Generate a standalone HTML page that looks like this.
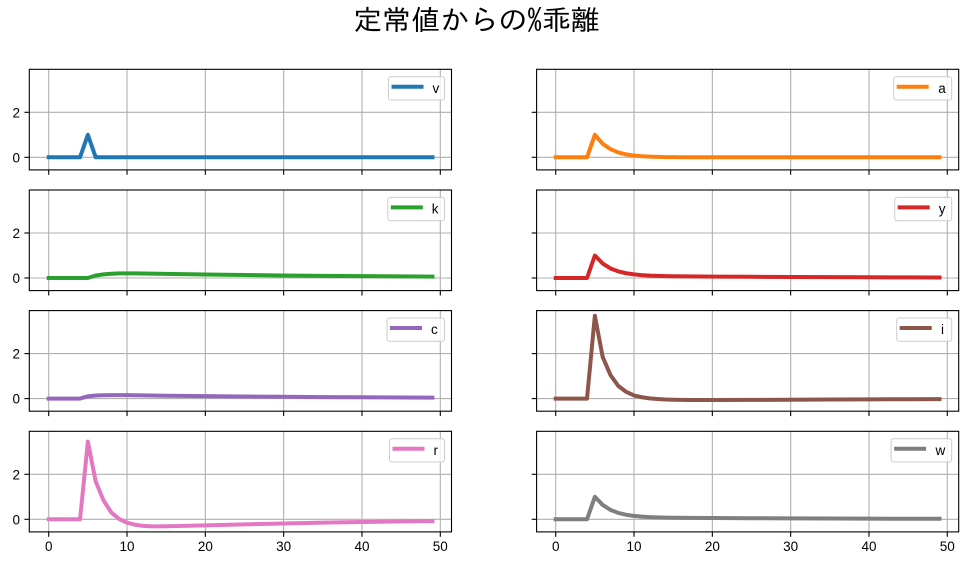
<!DOCTYPE html>
<html><head><meta charset="utf-8"><style>
html,body{margin:0;padding:0;background:#fff;}
svg{display:block;}
text{font-family:"Liberation Sans","IPAGothic","Noto Sans CJK JP",sans-serif;fill:#000;}
text.t{font-family:"IPAGothic","Noto Sans CJK JP",sans-serif;}
</style></head><body>
<svg width="968" height="564" viewBox="0 0 968 564" xmlns="http://www.w3.org/2000/svg">
<defs>
<g id="fl">
  <g stroke="#b0b0b0" stroke-width="1.1" fill="none">
    <line x1="48.7" y1="0" x2="48.7" y2="100.6"/><line x1="127.02" y1="0" x2="127.02" y2="100.6"/>
    <line x1="205.34" y1="0" x2="205.34" y2="100.6"/><line x1="283.66" y1="0" x2="283.66" y2="100.6"/>
    <line x1="361.98" y1="0" x2="361.98" y2="100.6"/><line x1="440.3" y1="0" x2="440.3" y2="100.6"/>
    <line x1="29.3" y1="88" x2="451.5" y2="88"/><line x1="29.3" y1="43" x2="451.5" y2="43"/>
  </g>
  <g stroke="#000" stroke-width="1.1">
    <line x1="48.7" y1="100.6" x2="48.7" y2="105.5"/><line x1="127.02" y1="100.6" x2="127.02" y2="105.5"/>
    <line x1="205.34" y1="100.6" x2="205.34" y2="105.5"/><line x1="283.66" y1="100.6" x2="283.66" y2="105.5"/>
    <line x1="361.98" y1="100.6" x2="361.98" y2="105.5"/><line x1="440.3" y1="100.6" x2="440.3" y2="105.5"/>
    <line x1="24.4" y1="88" x2="29.3" y2="88"/><line x1="24.4" y1="43" x2="29.3" y2="43"/>
  </g>
  <text x="20" y="93" font-size="13.5" text-anchor="end">0</text>
  <text x="20" y="48" font-size="13.5" text-anchor="end">2</text>
</g>
<g id="fr">
  <g stroke="#b0b0b0" stroke-width="1.1" fill="none">
    <line x1="555.7" y1="0" x2="555.7" y2="100.6"/><line x1="634.02" y1="0" x2="634.02" y2="100.6"/>
    <line x1="712.34" y1="0" x2="712.34" y2="100.6"/><line x1="790.66" y1="0" x2="790.66" y2="100.6"/>
    <line x1="868.98" y1="0" x2="868.98" y2="100.6"/><line x1="947.3" y1="0" x2="947.3" y2="100.6"/>
    <line x1="536.6" y1="88" x2="958.7" y2="88"/><line x1="536.6" y1="43" x2="958.7" y2="43"/>
  </g>
  <g stroke="#000" stroke-width="1.1">
    <line x1="555.7" y1="100.6" x2="555.7" y2="105.5"/><line x1="634.02" y1="100.6" x2="634.02" y2="105.5"/>
    <line x1="712.34" y1="100.6" x2="712.34" y2="105.5"/><line x1="790.66" y1="100.6" x2="790.66" y2="105.5"/>
    <line x1="868.98" y1="100.6" x2="868.98" y2="105.5"/><line x1="947.3" y1="100.6" x2="947.3" y2="105.5"/>
    <line x1="531.7" y1="88" x2="536.6" y2="88"/><line x1="531.7" y1="43" x2="536.6" y2="43"/>
  </g>
</g>
</defs>

<text class="t" x="353" y="30" font-size="27.8" textLength="247" lengthAdjust="spacingAndGlyphs">定常値からの%乖離</text>

<!-- frames -->
<use href="#fl" transform="translate(0,69.3)"/>
<use href="#fl" transform="translate(0,190)"/>
<use href="#fl" transform="translate(0,310.6)"/>
<use href="#fl" transform="translate(0,431.3)"/>
<use href="#fr" transform="translate(0,69.3)"/>
<use href="#fr" transform="translate(0,190)"/>
<use href="#fr" transform="translate(0,310.6)"/>
<use href="#fr" transform="translate(0,431.3)"/>

<!-- series -->
<g fill="none" stroke-width="4" stroke-linejoin="round" stroke-linecap="square">
<g transform="translate(48.7,157.3) scale(7.832,-22.5)"><path stroke="#1f77b4" vector-effect="non-scaling-stroke" d="M0,0 L4,0 L5,1 L6,0 L49,0"/></g>
<g transform="translate(555.7,157.3) scale(7.832,-22.5)"><path stroke="#ff7f0e" vector-effect="non-scaling-stroke" d="M0,0 L4,0 L5,1 L6,.6 L7,.36 L8,.216 L9,.1296 L10,.0778 L11,.0467 L12,.028 L13,.0168 L14,.0101 L15,.006 L16,.0036 L17,.0022 L18,.0013 L20,.0005 L25,0 L49,0"/></g>
<g transform="translate(48.7,278) scale(7.832,-22.5)"><path stroke="#2ca02c" vector-effect="non-scaling-stroke" d="M0,0 L5,0 L6,.11 L7,.16 L8,.19 L9,.203 L10,.207 L11,.207 L12,.2006 L13,.1944 L14,.1883 L15,.1825 L17,.1714 L20,.1559 L25,.1332 L30,.1138 L35,.0972 L40,.083 L45,.0709 L49,.0625"/></g>
<g transform="translate(555.7,278) scale(7.832,-22.5)"><path stroke="#d62728" vector-effect="non-scaling-stroke" d="M0,0 L4,0 L5,1 L6,.644 L7,.424 L8,.292 L9,.211 L10,.161 L11,.13 L12,.108 L13,.095 L14,.085 L15,.079 L17,.071 L20,.063 L25,.053 L30,.0455 L35,.039 L40,.033 L45,.028 L49,.025"/></g>
<g transform="translate(48.7,398.6) scale(7.832,-22.5)"><path stroke="#9467bd" vector-effect="non-scaling-stroke" d="M0,0 L4,0 L5,.1 L6,.137 L7,.148 L8,.155 L9,.155 L10,.153 L11,.15 L12,.143 L13,.138 L14,.133 L15,.128 L17,.12 L20,.109 L25,.093 L30,.08 L35,.068 L40,.058 L45,.05 L49,.044"/></g>
<g transform="translate(555.7,398.6) scale(7.832,-22.5)"><path stroke="#8c564b" vector-effect="non-scaling-stroke" d="M0,0 L4,0 L5,3.68 L6,1.85 L7,1.04 L8,.56 L9,.3 L10,.14 L11,.06 L12,.01 L13,-.02 L14,-.04 L15,-.05 L17,-.06 L20,-.062 L25,-.058 L30,-.05 L35,-.042 L40,-.034 L45,-.027 L49,-.022"/></g>
<g transform="translate(48.7,519.3) scale(7.832,-22.5)"><path stroke="#e377c2" vector-effect="non-scaling-stroke" d="M0,0 L4,0 L5,3.45 L6,1.68 L7,.84 L8,.3 L9,.01 L10,-.15 L11,-.24 L12,-.29 L13,-.31 L14,-.315 L15,-.31 L17,-.295 L20,-.27 L25,-.225 L30,-.185 L35,-.15 L40,-.12 L45,-.095 L49,-.08"/></g>
<g transform="translate(555.7,519.3) scale(7.832,-22.5)"><path stroke="#7f7f7f" vector-effect="non-scaling-stroke" d="M0,0 L4,0 L5,1 L6,.6385 L7,.416 L8,.2825 L9,.2007 L10,.1503 L11,.119 L12,.0982 L13,.0848 L14,.076 L15,.0699 L17,.0622 L20,.0551 L25,.0466 L30,.0398 L35,.034 L40,.029 L45,.0248 L49,.0219"/></g>
</g>

<!-- spines -->
<g fill="none" stroke="#000" stroke-width="1.1">
<rect x="29.3" y="69.3" width="422.2" height="100.6"/>
<rect x="29.3" y="190" width="422.2" height="100.6"/>
<rect x="29.3" y="310.6" width="422.2" height="100.6"/>
<rect x="29.3" y="431.3" width="422.2" height="100.6"/>
<rect x="536.6" y="69.3" width="422.1" height="100.6"/>
<rect x="536.6" y="190" width="422.1" height="100.6"/>
<rect x="536.6" y="310.6" width="422.1" height="100.6"/>
<rect x="536.6" y="431.3" width="422.1" height="100.6"/>
</g>

<!-- x tick labels -->
<g font-size="13.5" text-anchor="middle">
<text x="48.7" y="551">0</text><text x="127.02" y="551">10</text><text x="205.34" y="551">20</text>
<text x="283.66" y="551">30</text><text x="361.98" y="551">40</text><text x="440.3" y="551">50</text>
<text x="555.7" y="551">0</text><text x="634.02" y="551">10</text><text x="712.34" y="551">20</text>
<text x="790.66" y="551">30</text><text x="868.98" y="551">40</text><text x="947.3" y="551">50</text>
</g>

<!-- legends -->
<g font-size="13.5">
<rect x="388.5" y="76.7" width="56" height="23.3" rx="2.5" fill="#fff" fill-opacity="0.8" stroke="#cccccc" stroke-width="1"/>
<line x1="391.5" y1="86.7" x2="423.5" y2="86.7" stroke="#1f77b4" stroke-width="4"/>
<text x="432.5" y="92.8">v</text>

<rect x="893.7" y="76.7" width="58" height="23.3" rx="2.5" fill="#fff" fill-opacity="0.8" stroke="#cccccc" stroke-width="1"/>
<line x1="896.7" y1="86.7" x2="928.7" y2="86.7" stroke="#ff7f0e" stroke-width="4"/>
<text x="938.2" y="92.8">a</text>

<rect x="387.8" y="197.4" width="56.7" height="23.3" rx="2.5" fill="#fff" fill-opacity="0.8" stroke="#cccccc" stroke-width="1"/>
<line x1="390.8" y1="207.4" x2="422.8" y2="207.4" stroke="#2ca02c" stroke-width="4"/>
<text x="431.8" y="213.5">k</text>

<rect x="894.7" y="197.4" width="57" height="23.3" rx="2.5" fill="#fff" fill-opacity="0.8" stroke="#cccccc" stroke-width="1"/>
<line x1="897.7" y1="207.4" x2="929.7" y2="207.4" stroke="#d62728" stroke-width="4"/>
<text x="938.7" y="213.5">y</text>

<rect x="387" y="318" width="57.5" height="23.3" rx="2.5" fill="#fff" fill-opacity="0.8" stroke="#cccccc" stroke-width="1"/>
<line x1="390" y1="328" x2="422" y2="328" stroke="#9467bd" stroke-width="4"/>
<text x="431" y="334.1">c</text>

<rect x="896.7" y="318" width="55" height="23.3" rx="2.5" fill="#fff" fill-opacity="0.8" stroke="#cccccc" stroke-width="1"/>
<line x1="899.7" y1="328" x2="931.7" y2="328" stroke="#8c564b" stroke-width="4"/>
<text x="941" y="334.1">i</text>

<rect x="389.5" y="438.7" width="55" height="23.3" rx="2.5" fill="#fff" fill-opacity="0.8" stroke="#cccccc" stroke-width="1"/>
<line x1="392.5" y1="448.7" x2="424.5" y2="448.7" stroke="#e377c2" stroke-width="4"/>
<text x="433.5" y="454.8">r</text>

<rect x="891.1" y="438.7" width="60.6" height="23.3" rx="2.5" fill="#fff" fill-opacity="0.8" stroke="#cccccc" stroke-width="1"/>
<line x1="894.1" y1="448.7" x2="926.1" y2="448.7" stroke="#7f7f7f" stroke-width="4"/>
<text x="935.5" y="454.8">w</text>
</g>
</svg>
</body></html>
